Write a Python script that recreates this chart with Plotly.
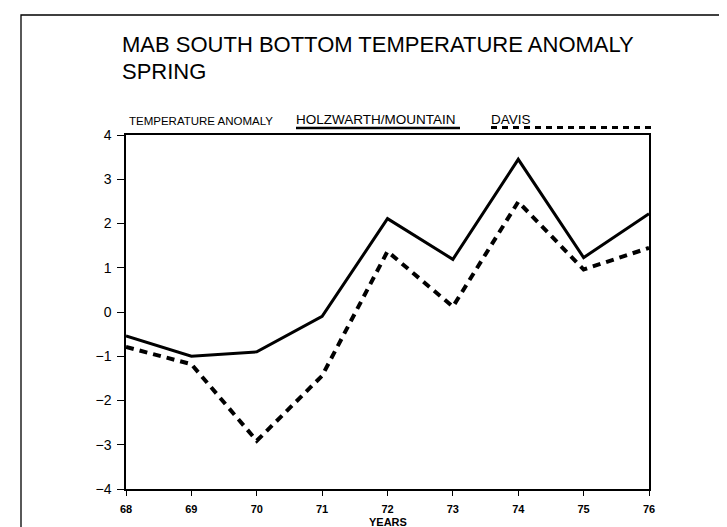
import plotly.graph_objects as go

# ---- data ----
years = [68, 69, 70, 71, 72, 73, 74, 75, 76]
year_labels = ["68", "69", "70", "71", "72", "73", "74", "75", "76"]
holzwarth = [-0.54, -1.00, -0.90, -0.10, 2.11, 1.19, 3.45, 1.23, 2.22]
davis = [-0.79, -1.18, -2.91, -1.44, 1.37, 0.12, 2.49, 0.96, 1.45]
y_ticks = [-4, -3, -2, -1, 0, 1, 2, 3, 4]

title_line1 = "MAB SOUTH BOTTOM TEMPERATURE ANOMALY"
title_line2 = "SPRING"
y_label = "TEMPERATURE ANOMALY"
name_h = "HOLZWARTH/MOUNTAIN"
name_d = "DAVIS"
x_label = "YEARS"

# ---- layout geometry (pixels) ----
W, H = 727, 527
L, R, T, B = 118, 641, 127, 481


def px_x(p):
    return (p - L) / (R - L)


def px_y(p):
    return (B - p) / (B - T)


FONT = "Liberation Sans, Arial, sans-serif"

fig = go.Figure()
fig.add_trace(go.Scatter(x=years, y=holzwarth, mode="lines", name=name_h,
                         line=dict(color="black", width=3), showlegend=False))
fig.add_trace(go.Scatter(x=years, y=davis, mode="lines", name=name_d,
                         line=dict(color="black", width=4, dash="8px,6px"),
                         showlegend=False))

fig.update_layout(
    width=W, height=H,
    margin=dict(l=L, r=W - R, t=T, b=H - B, pad=0),
    paper_bgcolor="white", plot_bgcolor="white",
    font=dict(family=FONT, color="black"),
    showlegend=False,
)
fig.update_xaxes(
    range=[years[0], years[-1]], tickvals=years, ticktext=year_labels,
    showgrid=False, zeroline=False, showline=True, mirror=True,
    linecolor="black", linewidth=1.5,
    ticks="outside", ticklen=5, tickwidth=1.2, tickcolor="black",
    tickfont=dict(size=11, family=FONT, weight="bold"),
    ticklabelstandoff=4,
)
fig.update_yaxes(
    range=[-4, 4], tickvals=y_ticks,
    ticktext=[str(v).replace("-", "\u2212") for v in y_ticks],
    showgrid=False, zeroline=False, showline=True, mirror=True,
    linecolor="black", linewidth=1.5,
    ticks="outside", ticklen=7, tickwidth=1.2, tickcolor="black",
    tickfont=dict(size=14, family=FONT),
    ticklabelstandoff=3,
)

ann = []
ann.append(dict(text=title_line1, x=px_x(112), y=px_y(36.5), xref="paper", yref="paper",
                xanchor="left", yanchor="middle", showarrow=False,
                font=dict(size=22, family=FONT)))
ann.append(dict(text=title_line2, x=px_x(112), y=px_y(63.5), xref="paper", yref="paper",
                xanchor="left", yanchor="middle", showarrow=False,
                font=dict(size=22, family=FONT)))
ann.append(dict(text=y_label, x=px_x(119), y=px_y(113), xref="paper", yref="paper",
                xanchor="left", yanchor="middle", showarrow=False,
                font=dict(size=11.5, family=FONT)))
ann.append(dict(text=name_h, x=px_x(286), y=px_y(112), xref="paper", yref="paper",
                xanchor="left", yanchor="middle", showarrow=False,
                font=dict(size=13.5, family=FONT)))
ann.append(dict(text=name_d, x=px_x(481), y=px_y(112), xref="paper", yref="paper",
                xanchor="left", yanchor="middle", showarrow=False,
                font=dict(size=13.5, family=FONT)))
ann.append(dict(text=x_label, x=0.5, y=px_y(514), xref="paper", yref="paper",
                xanchor="center", yanchor="middle", showarrow=False,
                font=dict(size=11, family=FONT, weight="bold")))
fig.update_layout(annotations=ann)

shapes = []
# outer frame
shapes.append(dict(type="rect", xref="paper", yref="paper",
                   x0=px_x(13), x1=px_x(722), y0=px_y(7), y1=px_y(545),
                   line=dict(color="black", width=1.3), fillcolor="rgba(0,0,0,0)"))
# legend keys
shapes.append(dict(type="line", xref="paper", yref="paper",
                   x0=px_x(288), x1=px_x(452), y0=px_y(120), y1=px_y(120),
                   line=dict(color="black", width=2.5)))
shapes.append(dict(type="line", xref="paper", yref="paper",
                   x0=px_x(483), x1=px_x(647), y0=px_y(119.5), y1=px_y(119.5),
                   line=dict(color="black", width=3, dash="6px,5px")))
fig.update_layout(shapes=shapes)

fig.write_html("out.html")
